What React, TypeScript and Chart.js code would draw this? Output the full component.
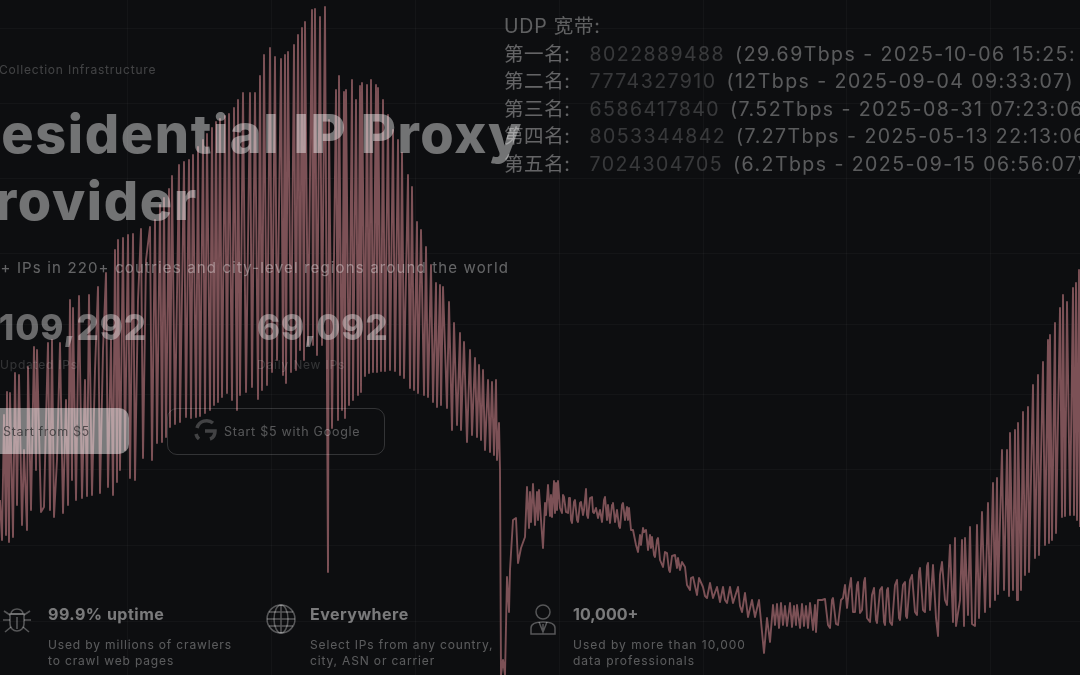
import React, { useEffect, useRef } from "react";
import { Chart, registerables } from "chart.js";

Chart.register(...registerables);

type Pt = [number, number];

const riseSlope: Pt[] = [
  [0,500],[2,540],[4,415],[6,535],[7,392],[9,542],[10,393],[13,537],[15,373],[17,505],[19,375],[22,525],[24,450],[27,530],[28,367],[31,510],[34,347],[36,470],[37,350],[41,512],
  [44,507],[46,420],[48,343],[50,510],[52,340],[54,517],[57,460],[60,343],[63,513],[66,400],[68,505],[70,300],[72,480],[73,308],[76,500],[79,296],[82,498],[85,380],[87,496],[89,295],
  [92,495],[95,370],[98,287],[100,493],[103,350],[106,273],[108,487],[111,340],[113,495],[115,250],[117,482],[118,240],[120,470],[123,238],[125,450],[128,235],[130,478],[133,234],[135,480],[138,300],
  [141,229],[143,458],[146,260],[150,227],[152,460],[155,220],[157,443],[160,205],[162,442],[164,198],[166,437],[169,189],[170,427],[172,176],[175,424],[179,165],[180,422],[184,162],[186,417],[189,160],
  [191,418],[193,155],[196,417],[198,147],[200,416],[203,140],[205,413],[207,134],[210,410],[212,128],[214,405],[216,122],[218,402],[220,119],[222,397],[225,116],[227,393],[229,114],[232,400],[234,108],
  [237,410],[238,100],[240,395],[243,93],[246,392],[250,93],[252,387],[255,93],[258,399],[260,76],[262,390],[264,55],[267,385],[270,48],[272,372],[275,57],[277,360],[281,59],[283,375],[285,55],
  [286,383],[288,52],[291,372],[294,45],[296,370],[298,35],[300,350],[302,28],[304,360],[305,22],[308,345],[312,10],[313,345],[315,9],[317,355],[320,17],[322,345],[325,7],[328,572],
];

const fallSlope: Pt[] = [
  [329,120],[332,428],[336,90],[338,420],[339,76],[342,410],[344,92],[345,418],[346,90],[349,405],[352,80],[353,400],[356,100],[358,395],[360,86],[361,392],[362,83],[365,376],[367,85],[369,373],
  [371,80],[373,372],[376,85],[377,372],[378,88],[381,371],[383,100],[385,371],[388,115],[390,370],[393,130],[395,371],[398,140],[400,375],[402,153],[404,378],[408,175],[410,388],[412,187],[414,390],
  [417,222],[418,393],[421,230],[424,395],[426,247],[428,397],[431,265],[433,402],[436,283],[437,407],[440,285],[441,405],[443,287],[447,408],[449,302],[452,430],[454,323],[457,425],[460,333],[461,430],
  [464,342],[467,442],[470,350],[472,435],[475,358],[477,437],[479,365],[481,440],[483,370],[485,450],[488,380],[490,452],[492,382],[494,455],[496,380],[497,460],[499,423],[500,470],
];

const recovery: Pt[] = [
  [501,675],[503,660],[505,675],[507,577],[509,612],[510,570],[513,520],[516,518],[518,563],[521,548],[525,537],[527,487],[529,528],[530,492],[531,522],[533,484],[535,525],[537,492],[538,520],[539,490],
  [541,520],[543,548],[545,503],[546,515],[548,485],[550,516],[551,495],[552,517],[554,481],[555,513],[556,483],[557,510],[558,481],[560,508],[562,513],[563,495],[564,497],[566,512],[568,513],[569,498],
  [570,498],[571,520],[572,523],[574,502],[575,500],[577,520],[578,522],[580,503],[581,502],[583,515],[584,510],[586,489],[587,515],[588,518],[590,498],[592,497],[593,512],[594,513],[596,508],[598,518],
  [600,510],[602,522],[604,500],[605,497],[607,520],[608,505],[610,523],[612,505],[613,503],[615,522],[617,510],[619,526],[620,528],[622,505],[623,503],[625,520],[627,507],[628,520],[629,508],[631,530],
  [633,530],[636,545],[638,552],[640,535],[641,545],[643,528],[644,532],[646,530],[648,550],[650,535],[651,548],[652,537],[654,555],[655,557],[657,540],[658,538],[660,560],[663,567],[665,552],[667,553],
  [669,570],[670,572],[672,556],[675,555],[677,568],[678,558],[680,570],[682,562],[685,567],[687,585],[690,590],[691,578],[693,577],
];

const valley: Pt[] = [
  [697,595],[699,578],[703,587],[705,596],[707,598],[710,583],[713,598],[717,587],[720,602],[723,587],[725,600],[727,603],[730,587],[733,603],[738,587],[740,606],[742,612],[745,593],[748,617],[752,600],
  [755,617],[759,600],[764,653],[767,618],[770,642],[773,605],[775,625],[777,604],[779,628],[781,603],[783,625],[785,606],[787,626],[790,603],[792,627],[794,606],[796,625],[797,605],[800,628],[802,604],
  [804,626],[806,606],[808,628],[810,603],[813,630],[815,605],[816,632],[818,600],[822,600],[825,599],[828,625],[830,628],[832,600],[833,598],[836,624],[838,625],[841,600],[843,598],[845,585],[847,608],
  [849,590],[851,578],[853,612],[855,612],[857,585],[858,582],[860,613],[862,610],[864,582],[865,578],[867,618],[870,622],[872,595],[874,588],[876,620],[877,623],[880,590],[882,587],[884,622],[885,625],
  [887,590],[888,588],[890,622],[892,625],[895,585],[897,580],[899,618],[900,620],[903,585],[905,582],[906,616],[907,618],[910,580],[912,575],[915,612],[917,615],[919,572],[920,568],[923,610],[925,612],
  [927,566],[928,563],
];

const climb: Pt[] = [
  [930,610],[933,565],[936,618],[938,636],[940,575],[942,562],[945,600],[947,605],[950,545],[953,622],[955,538],[956,626],[960,600],[962,540],[964,626],[965,538],[968,615],[970,527],[972,624],[975,626],
  [977,525],[979,618],[982,512],[985,612],[988,503],[990,607],[993,483],[995,600],[997,478],[998,594],[1002,450],[1004,590],[1007,450],[1009,596],[1010,433],[1013,590],[1015,430],[1017,600],[1018,423],[1021,590],
  [1023,412],[1025,575],[1028,407],[1029,572],[1033,385],[1035,558],[1038,375],[1039,555],[1043,362],[1045,545],[1048,340],[1049,543],[1050,335],[1052,540],[1055,323],[1056,533],[1060,308],[1062,517],[1063,295],[1065,516],
  [1067,302],[1070,515],[1073,288],[1074,515],[1076,283],[1077,520],[1079,270],[1080,527],
];

const gridColumns = [127, 271, 415, 559, 703, 846, 990];
const gridRows = [28, 103, 178, 253, 324, 395, 469, 545, 621];

const rankHeader = "UDP 宽带:";
const rankLabels = ["第一名:", "第二名:", "第三名:", "第四名:", "第五名:"];
const rankIds = ["8022889488", "7774327910", "6586417840", "8053344842", "7024304705"];
const rankDetails = [
  "(29.69Tbps - 2025-10-06 15:25:",
  "(12Tbps - 2025-09-04 09:33:07)",
  "(7.52Tbps - 2025-08-31 07:23:06)",
  "(7.27Tbps - 2025-05-13 22:13:06)",
  "(6.2Tbps - 2025-09-15 06:56:07)",
];

const SANS = "Inter, 'Noto Sans CJK SC', sans-serif";

function T(props: { x?: number; rx?: number; y: number; size: number; color: string; weight?: number; ls?: number; children: React.ReactNode }) {
  const { x, rx, y, size, color, weight, ls, children } = props;
  return (
    <div
      style={{
        position: "absolute",
        left: x,
        right: rx === undefined ? undefined : 1080 - rx,
        top: y,
        transform: "translateY(-50%)",
        whiteSpace: "pre",
        fontFamily: SANS,
        fontSize: size,
        fontWeight: weight ?? 400,
        letterSpacing: ls ?? 0,
        color,
        lineHeight: 1.2,
      }}
    >
      {children}
    </div>
  );
}

const stroke = "rgba(255,255,255,0.3)";

function BugIcon() {
  return (
    <svg width="32" height="32" viewBox="0 0 32 32" style={{ position: "absolute", left: 1, top: 603 }} fill="none" stroke={stroke} strokeWidth="1.6">
      <path d="M10 11a6 5 0 0 1 12 0z" />
      <path d="M9 11h14v10a7 7 0 0 1-14 0z" />
      <path d="M16 14v12M9 17H2M23 17h7M9 12L3 8M23 12l6-4M10 24l-6 5M22 24l6 5" />
    </svg>
  );
}

function GlobeIcon() {
  return (
    <svg width="32" height="32" viewBox="0 0 32 32" style={{ position: "absolute", left: 265, top: 603 }} fill="none" stroke={stroke} strokeWidth="1.5">
      <circle cx="16" cy="16" r="14" />
      <ellipse cx="16" cy="16" rx="7" ry="14" />
      <path d="M16 2v28M2 16h28M4 9h24M4 23h24" />
    </svg>
  );
}

function PersonIcon() {
  return (
    <svg width="28" height="34" viewBox="0 0 28 34" style={{ position: "absolute", left: 529, top: 603 }} fill="none" stroke={stroke} strokeWidth="1.5">
      <circle cx="14" cy="9" r="7" />
      <path d="M2 31v-6c0-4 5-6 12-6s12 2 12 6v6z" />
      <path d="M10 19l4 10 4-10M14 21v8" />
    </svg>
  );
}

function GoogleIcon() {
  return (
    <svg width="26" height="26" viewBox="0 0 26 26" style={{ position: "absolute", left: 192, top: 418 }} fill="none" stroke="rgba(255,255,255,0.22)" strokeWidth="3.5">
      <path d="M21 5a10 10 0 0 0-16 5M4 16a10 10 0 0 0 3 5M13 13h10c0 4-2 7-5 8" />
    </svg>
  );
}

export default function App() {
  const ref = useRef<HTMLCanvasElement>(null);

  useEffect(() => {
    const points = [...riseSlope, ...fallSlope, ...recovery, ...valley, ...climb].map(([x, y]) => ({ x, y }));
    const gridColor = "rgba(255,255,255,0.03)";
    const chart = new Chart(ref.current!, {
      type: "line",
      data: {
        datasets: [
          {
            data: points,
            borderColor: "#7c5156",
            borderWidth: 1.9,
            pointRadius: 0,
            tension: 0,
            fill: false,
            borderJoinStyle: "round",
          },
        ],
      },
      options: {
        animation: false,
        responsive: false,
        parsing: false,
        layout: { padding: 0 },
        plugins: { legend: { display: false }, tooltip: { enabled: false }, title: { display: false } },
        scales: {
          x: {
            type: "linear",
            min: 0,
            max: 1080,
            border: { display: false },
            ticks: { display: false },
            grid: { color: gridColor, drawTicks: false },
            afterBuildTicks: (axis: any) => {
              axis.ticks = gridColumns.map((value) => ({ value }));
            },
          },
          y: {
            type: "linear",
            reverse: true,
            min: 0,
            max: 675,
            border: { display: false },
            ticks: { display: false },
            grid: { color: gridColor, drawTicks: false },
            afterBuildTicks: (axis: any) => {
              axis.ticks = gridRows.map((value) => ({ value }));
            },
          },
        },
      },
    });
    return () => chart.destroy();
  }, []);

  return (
    <div
      style={{
        position: "fixed",
        left: 0,
        top: 0,
        width: 1080,
        height: 675,
        overflow: "hidden",
        background: "#0d0e10",
        filter: "blur(0.6px)",
      }}
    >
      <canvas ref={ref} width={1080} height={675} style={{ position: "absolute", left: 0, top: 0, width: 1080, height: 675 }} />

      <T x={-1} y={70} size={12} ls={0.8} color="rgba(255,255,255,0.22)">Collection Infrastructure</T>
      <T rx={523} y={134} size={54} weight={800} ls={1.6} color="rgba(255,255,255,0.42)">Residential IP Proxy</T>
      <T rx={198} y={201} size={54} weight={800} ls={1.6} color="rgba(255,255,255,0.42)">Provider</T>
      <T rx={509} y={268} size={15} ls={1.15} color="rgba(255,255,255,0.36)">+ IPs in 220+ coutries and city-level regions around the world</T>

      <T rx={147} y={327} size={35} weight={800} ls={0.9} color="rgba(255,255,255,0.38)">109,292</T>
      <T x={257} y={327} size={35} weight={800} ls={0.9} color="rgba(255,255,255,0.38)">69,092</T>
      <T x={0} y={365} size={12} ls={0.8} color="rgba(255,255,255,0.16)">Updated IPs</T>
      <T x={257} y={365} size={12} ls={0.8} color="rgba(255,255,255,0.16)">Daily New IPs</T>

      <div style={{ position: "absolute", left: -10, top: 408, width: 139, height: 46, borderRadius: 10, background: "rgba(255,255,255,0.45)" }} />
      <T x={3} y={431} size={12.5} ls={0.65} color="rgba(20,20,22,0.6)">Start from $5</T>
      <div style={{ position: "absolute", left: 167, top: 408, width: 216, height: 45, borderRadius: 10, border: "1px solid rgba(255,255,255,0.16)" }} />
      <GoogleIcon />
      <T x={224} y={431} size={12.5} ls={0.75} color="rgba(255,255,255,0.3)">Start $5 with Google</T>

      <BugIcon />
      <T x={48} y={615} size={16} weight={700} ls={0.5} color="rgba(255,255,255,0.45)">99.9% uptime</T>
      <T x={48} y={645} size={12} ls={0.85} color="rgba(255,255,255,0.32)">Used by millions of crawlers</T>
      <T x={48} y={661} size={12} ls={0.85} color="rgba(255,255,255,0.32)">to crawl web pages</T>

      <GlobeIcon />
      <T x={310} y={615} size={16} weight={700} ls={0.5} color="rgba(255,255,255,0.45)">Everywhere</T>
      <T x={310} y={645} size={12} ls={0.85} color="rgba(255,255,255,0.32)">Select IPs from any country,</T>
      <T x={310} y={661} size={12} ls={0.85} color="rgba(255,255,255,0.32)">city, ASN or carrier</T>

      <PersonIcon />
      <T x={573} y={615} size={16} weight={700} color="rgba(255,255,255,0.45)">10,000+</T>
      <T x={573} y={645} size={12} ls={1} color="rgba(255,255,255,0.32)">Used by more than 10,000</T>
      <T x={573} y={661} size={12} ls={1} color="rgba(255,255,255,0.32)">data professionals</T>

      <T x={504} y={27} size={19.5} ls={0.8} color="rgba(255,255,255,0.34)">{rankHeader}</T>
      {rankLabels.map((label, i) => (
        <T key={label} x={504} y={54.5 + i * 27.6} size={19.5} ls={1.45} color="rgba(255,255,255,0.36)">
          <span style={{ letterSpacing: 0.6, marginRight: 19 }}>{label}</span>
          <span style={{ color: "rgba(255,255,255,0.18)", marginRight: 3 }}>{rankIds[i]}</span>{" "}
          <span style={{ color: "rgba(255,255,255,0.32)" }}>{rankDetails[i]}</span>
        </T>
      ))}
    </div>
  );
}
